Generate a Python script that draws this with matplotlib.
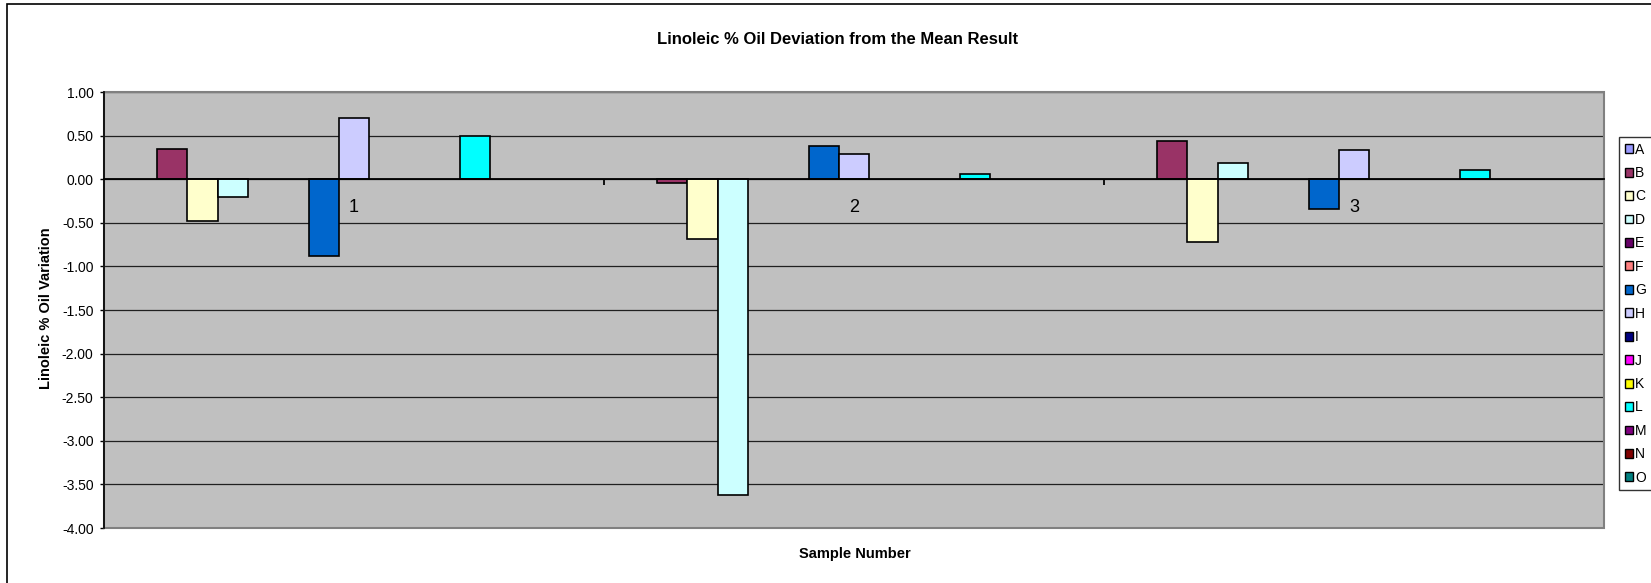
import numpy as np
import matplotlib
matplotlib.use("Agg")
import matplotlib.pyplot as plt
from matplotlib.patches import Patch, Rectangle
from matplotlib.ticker import FormatStrFormatter

plt.rcParams['font.family'] = ['Liberation Sans', 'DejaVu Sans']

samples = ["1", "2", "3"]
series = ["A", "B", "C", "D", "E", "F", "G", "H", "I", "J", "K", "L", "M", "N", "O"]
colors = ["#9999FF", "#993366", "#FFFFCC", "#CCFFFF", "#660066", "#FF8080",
          "#0066CC", "#CCCCFF", "#000080", "#FF00FF", "#FFFF00", "#00FFFF",
          "#800080", "#800000", "#008080"]
nan = np.nan
# deviation per series for samples 1, 2, 3 (nan = no result)
values = {
  "A": [nan, nan, nan],
  "B": [0.35, -0.04, 0.44],
  "C": [-0.48, -0.69, -0.72],
  "D": [-0.20, -3.62, 0.19],
  "E": [nan, nan, nan],
  "F": [nan, nan, nan],
  "G": [-0.88, 0.38, -0.34],
  "H": [0.70, 0.29, 0.33],
  "I": [nan, nan, nan],
  "J": [nan, nan, nan],
  "K": [nan, nan, nan],
  "L": [0.49, 0.06, 0.10],
  "M": [nan, nan, nan],
  "N": [nan, nan, nan],
  "O": [nan, nan, nan],
}

W, H = 1651, 583
fig = plt.figure(figsize=(W / 100, H / 100), dpi=100)
ax = fig.add_axes([104 / W, 1 - 528 / H, 1500 / W, 436 / H])
ax.set_facecolor("#C0C0C0")

x = np.arange(len(samples))
w = 1 / 16.5
for i, name in enumerate(series):
  ax.bar(x + (i - 7) * w, values[name], width=w, color=colors[i],
         edgecolor="black", linewidth=1.2, zorder=3)

ax.set_xlim(-0.5, 2.5)
ax.set_ylim(-4, 1)
ax.set_yticks(np.arange(-4, 1.01, 0.5))
ax.yaxis.set_major_formatter(FormatStrFormatter('%.2f'))
ax.yaxis.grid(True, color="#202020", linewidth=0.9, zorder=1)
ax.tick_params(axis='y', direction='out', length=3, width=1, labelsize=10, pad=4.5)

# category axis crosses at zero
ax.spines['bottom'].set_position(('data', 0))
ax.spines['bottom'].set_linewidth(1.3)
ax.spines['bottom'].set_zorder(4)
ax.set_xticks([-0.5, 0.5, 1.5, 2.5])
ax.set_xticklabels([])
ax.tick_params(axis='x', direction='out', length=4.3, width=1.3)
ax.spines['top'].set_visible(False)
ax.spines['right'].set_visible(False)
ax.spines['left'].set_linewidth(1.2)
ax.add_patch(Rectangle((0, 0), 1, 1, transform=ax.transAxes, fill=False,
                       edgecolor="#808080", linewidth=1.5, zorder=2, clip_on=False))
for i, s in enumerate(samples):
  ax.text(i, -0.33, s, ha='center', va='center', fontsize=13, zorder=5)

fig.text(838 / W, 1 - 39 / H, "Linoleic % Oil Deviation from the Mean Result",
         ha='center', va='center', fontsize=12, fontweight='bold')
fig.text(855 / W, 1 - 554 / H, "Sample Number", ha='center', va='center',
         fontsize=10.5, fontweight='bold')
fig.text(46 / W, 1 - 308 / H, "Linoleic % Oil Variation", ha='center', va='center',
         rotation=90, fontsize=10.5, fontweight='bold')

handles = [Patch(facecolor=c, edgecolor="black", linewidth=1) for c in colors]
leg = fig.legend(handles, series, loc='upper left', bbox_to_anchor=(1619 / W, 1 - 137 / H),
                 fontsize=10, frameon=True, fancybox=False, handlelength=0.6,
                 handleheight=0.6, handletextpad=0.15, labelspacing=0.68,
                 borderpad=0.4, borderaxespad=0)
leg.get_frame().set_edgecolor("black")
leg.get_frame().set_linewidth(1)

fig.patches.append(Rectangle((7 / W, -0.05), 1.1, 1 - 4 / H + 0.05, transform=fig.transFigure,
                             fill=False, edgecolor="black", linewidth=1.2))

fig.savefig("out.png", dpi=100)
